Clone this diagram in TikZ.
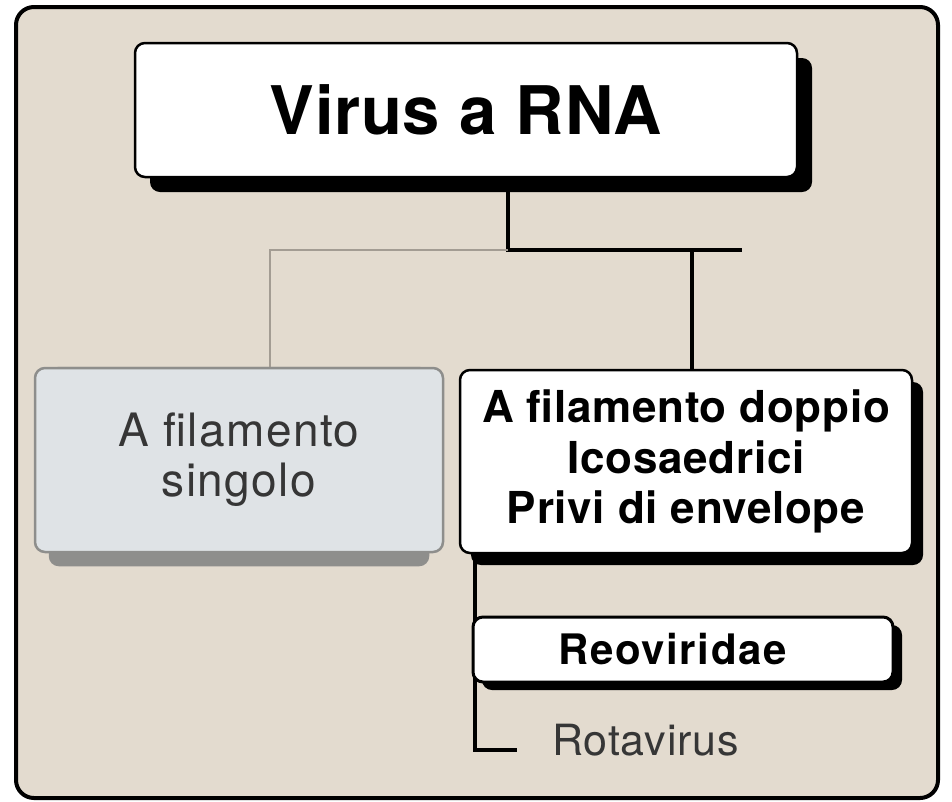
\documentclass[tikz,border=0pt]{standalone}
\usepackage{fontspec}
\setmainfont{TeX Gyre Heros}
\usepackage{tikz}
\usetikzlibrary{%
calc,%
shadows,%
backgrounds}
\definecolor{bgbeige}{HTML}{E3DBCF}
\definecolor{boxgrey}{HTML}{DFE3E6}
\definecolor{edgegrey}{HTML}{8E8E8C}
\definecolor{linegrey}{HTML}{A39C93}
\definecolor{textgrey}{HTML}{363636}
\pgfdeclarelayer{frame}
\pgfsetlayers{frame,background,main}

\begin{document}
\begin{tikzpicture}[x=1pt,y=-1pt,
    whitebox/.style={draw=black,line width=2.5pt,fill=white,rounded corners=10pt,inner sep=0pt,align=center},
    stem/.style={line width=4pt,black},
    thinstem/.style={line width=2pt,linegrey}]
\useasboundingbox (0,0) rectangle (952,801);
\begin{pgfonlayer}{frame}
\draw[line width=4pt,fill=bgbeige,rounded corners=18pt] (16,7) rectangle (938,798);
\end{pgfonlayer}

\node[whitebox,minimum width=662pt,minimum height=134pt,
    drop shadow={shadow xshift=15pt,shadow yshift=-15pt,fill=black,opacity=1},
    font=\fontsize{67}{80}\selectfont\bfseries\addfontfeature{LetterSpace=1}] (rna) at (466,110) {Virus a RNA};
\node[draw=edgegrey,line width=2.5pt,fill=boxgrey,rounded corners=10pt,inner sep=0pt,align=center,
    minimum width=408pt,minimum height=184pt,
    text=textgrey,font=\fontsize{46}{50}\selectfont\addfontfeature{LetterSpace=3}] (sgl) at (239,460) {A filamento\\singolo};
\node[whitebox,minimum width=452pt,minimum height=183pt,
    drop shadow={shadow xshift=11pt,shadow yshift=-12pt,fill=black,opacity=1},
    font=\fontsize{44}{50.5}\selectfont\bfseries\addfontfeature{LetterSpace=1.6}] (dbl) at (686,461.5)
    {A filamento doppio\\Icosaedrici\\Privi di envelope};
\node[whitebox,line width=3pt,minimum width=420pt,minimum height=65pt,align=none,
    drop shadow={shadow xshift=9pt,shadow yshift=-8pt,fill=black,opacity=1},
    font=\fontsize{42}{50}\selectfont\bfseries\addfontfeature{LetterSpace=4}] (reo) at (683,649.5) {Reoviridae\hspace*{21pt}};
\node[anchor=base west,inner sep=0pt,text=textgrey,
    font=\fontsize{43}{50}\selectfont\addfontfeature{LetterSpace=2}] (rota) at (552,755) {Rotavirus};

\coordinate (fork) at (508,250);
\coordinate (forkend) at (742,250);
\coordinate (dtap) at (692,250);
\coordinate (stap) at (270,250);
\coordinate (rbend) at (475,750);
\coordinate (rend) at (517,750);

\begin{pgfonlayer}{background}
% grey band under the single strand box
\fill[edgegrey,rounded corners=10pt] ($(sgl.north west)+(15,0)$) rectangle ($(sgl.south east)+(-15,13)$);
\draw[stem] (rna.south -| fork) -- (fork) -- (forkend);
\draw[stem] (dtap) -- (dtap |- dbl.north);
\draw[thinstem] (fork) -- (stap) -- (stap |- sgl.north);
\draw[stem] (dbl.south -| rbend) -- (rbend) -- (rend);
\end{pgfonlayer}
\end{tikzpicture}
\end{document}
